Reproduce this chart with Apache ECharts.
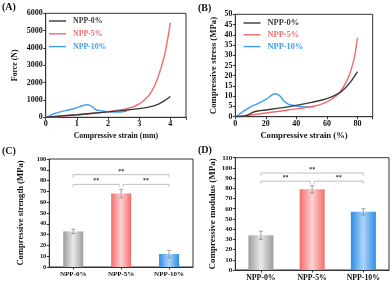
<!DOCTYPE html>
<html><head><meta charset="utf-8">
<script src="https://cdn.jsdelivr.net/npm/echarts@6/dist/echarts.min.js"></script>
<style>html,body{margin:0;padding:0;background:#fff}#c{width:392px;height:282px}</style>
</head><body><div id="c"></div>
<script>
// ---- Data ----
const seriesNames = ['NPP-0%', 'NPP-5%', 'NPP-10%'];
// Panel A: force (N) vs compressive strain (mm)
const forceA0 = [[0,0],[0.5,80],[1,150],[1.5,230],[2,310],[2.5,400],[3,500],[3.3,590],[3.6,750],[3.8,950],[4,1200]];
const forceA5 = [[0,0],[0.5,60],[1,130],[1.5,220],[2,330],[2.5,460],[2.8,600],[3,770],[3.2,1050],[3.4,1500],[3.6,2300],[3.8,3500],[3.9,4400],[4,5450]];
const forceA10 = [[0,0],[0.1,50],[0.2,150],[0.3,230],[0.5,330],[0.8,450],[1.0,560],[1.2,680],[1.3,720],[1.4,700],[1.5,600],[1.6,450],[1.8,360],[2.0,320],[2.2,300],[2.4,310],[2.6,340]];
// Panel B: compressive stress (MPa) vs compressive strain (%)
const stressB0 = [[0,0],[5,0.2],[8,0.8],[10,1.5],[12,2.3],[15,2.8],[20,3.3],[30,4.3],[40,5.5],[50,7],[60,8.8],[68,11.5],[72,14],[76,17.5],[80,22]];
const stressB5 = [[0,0],[10,0.8],[20,1.8],[30,2.8],[40,3.8],[50,5],[55,5.8],[60,7.2],[65,9.5],[68,11.5],[72,16],[75,21],[78,29],[80,38.5]];
const stressB10 = [[0,0],[2,0.8],[5,2.5],[10,4.8],[15,6.5],[20,8.5],[24,10.5],[26,11.2],[28,10.8],[30,9.5],[32,7.5],[35,6],[40,5.3],[45,4.8],[50,4.8],[52,5]];
// Panel C: compressive strength (MPa)
const strengthC = [33, 68, 12];
const strengthErrC = [2, 4, 3.5];
const sigC = [[0, 2, 85.5], [0, 1, 76.5], [1, 2, 76.5]];
// Panel D: compressive modulus (MPa)
const modulusD = [34, 79, 57];
const modulusErrD = [4, 3.5, 3];
const sigD = [[0, 2, 95], [0, 1, 87], [1, 2, 87]];
const sigLabel = '**';

// ---- Styling ----
const FONT = '"Liberation Serif","Times New Roman",serif';
const lineColors = ['#3a3a3a', '#f26b6b', '#3d9ef0'];
const barGrad = [['#9c9c9c', '#e9e9e9'], ['#f46c6c', '#fdd2d2'], ['#2f8ce6', '#acd5fa']];
const axisCol = '#333';

function grad(i) {
  return {type: 'linear', x: 0, y: 0, x2: 1, y2: 0, colorStops: [
    {offset: 0, color: barGrad[i][0]}, {offset: 0.5, color: barGrad[i][1]}, {offset: 1, color: barGrad[i][0]}]};
}
function lbl(fs, extra) {
  return Object.assign({fontFamily: FONT, fontWeight: 'bold', color: '#111', fontSize: fs, margin: 3, formatter: v => String(v)}, extra || {});
}
function nm(fs) { return {fontFamily: FONT, fontWeight: 'bold', color: '#111', fontSize: fs}; }
function valAxis(gi, o) {
  return Object.assign({
    type: 'value', gridIndex: gi, nameLocation: 'middle',
    nameTextStyle: nm(8.5),
    axisLine: {show: true, onZero: false, lineStyle: {color: axisCol, width: 1}},
    axisTick: {show: true, length: 2.5, lineStyle: {color: axisCol}},
    axisLabel: lbl(8),
    splitLine: {show: false}
  }, o);
}
function catAxis(gi, fs) {
  return {type: 'category', gridIndex: gi, data: seriesNames,
    axisLine: {show: true, lineStyle: {color: axisCol, width: 1}},
    axisTick: {show: true, alignWithLabel: true, length: 2.5, lineStyle: {color: axisCol}},
    axisLabel: {fontFamily: FONT, fontWeight: 'bold', color: '#111', fontSize: fs, margin: 4},
    splitLine: {show: false}};
}
function lineSeries(i, gi, data) {
  return {type: 'line', name: seriesNames[i], xAxisIndex: gi, yAxisIndex: gi, data: data,
    smooth: 0.35, symbol: 'none', lineStyle: {color: lineColors[i], width: 1.4},
    itemStyle: {color: lineColors[i]}, z: 5 - i};
}
function errSeries(gi, vals, errs) {
  return {type: 'custom', xAxisIndex: gi, yAxisIndex: gi, silent: true, z: 5,
    data: vals.map((v, i) => [i, v, errs[i]]),
    renderItem: function (params, api) {
      const x = api.value(0), v = api.value(1), e = api.value(2);
      const top = api.coord([x, v + e]), bot = api.coord([x, v - e]);
      const cap = 2;
      const st = {stroke: '#8a8a8a', lineWidth: 0.8};
      return {type: 'group', children: [
        {type: 'line', shape: {x1: top[0], y1: top[1], x2: bot[0], y2: bot[1]}, style: st},
        {type: 'line', shape: {x1: top[0] - cap, y1: top[1], x2: top[0] + cap, y2: top[1]}, style: st},
        {type: 'line', shape: {x1: bot[0] - cap, y1: bot[1], x2: bot[0] + cap, y2: bot[1]}, style: st}
      ]};
    }};
}
function sigSeries(gi, pairs, tickVal, gap) {
  return {type: 'custom', xAxisIndex: gi, yAxisIndex: gi, silent: true, z: 6,
    data: pairs,
    renderItem: function (params, api) {
      const a = api.value(0), b = api.value(1), y = api.value(2);
      const p1 = api.coord([a, y]), p2 = api.coord([b, y]);
      const drop = api.coord([a, y - tickVal])[1] - p1[1];
      const ga = (b - a === 1 && a === 1) ? gap : 0;
      const gb = (b - a === 1 && b === 1) ? gap : 0;
      const x1 = p1[0] + ga, x2 = p2[0] - gb;
      const st = {stroke: '#b0b0b0', lineWidth: 0.8};
      return {type: 'group', children: [
        {type: 'line', shape: {x1: x1, y1: p1[1], x2: x2, y2: p1[1]}, style: st},
        {type: 'line', shape: {x1: x1, y1: p1[1], x2: x1, y2: p1[1] + drop}, style: st},
        {type: 'line', shape: {x1: x2, y1: p1[1], x2: x2, y2: p1[1] + drop}, style: st},
        {type: 'text', x: (x1 + x2) / 2, y: p1[1] - 0.5, style: {text: sigLabel, fill: '#333', font: 'bold 6px ' + FONT, align: 'center', verticalAlign: 'bottom'}}
      ]};
    }};
}
function barSeries(gi, vals, bw) {
  return {type: 'bar', xAxisIndex: gi, yAxisIndex: gi, barWidth: bw,
    data: vals.map((v, i) => ({value: v, itemStyle: {color: grad(i)}})), z: 2};
}
function legendAt(left, top, fs, gap) {
  return {data: seriesNames.map((n, i) => ({name: n, icon: 'rect', textStyle: {color: lineColors[i]}})),
    left: left, top: top, orient: 'vertical',
    itemWidth: 17, itemHeight: 1.4, itemGap: gap, selectedMode: false, padding: 0,
    textStyle: {fontFamily: FONT, fontWeight: 'bold', fontSize: fs, padding: [0, 0, 0, 2]}};
}

const gridBox = {show: true, borderColor: axisCol, borderWidth: 1, backgroundColor: 'transparent', containLabel: false};
const option = {
  animation: false,
  textStyle: {fontFamily: FONT},
  grid: [
    Object.assign({left: 45.7, top: 13.3, width: 140.3, height: 104}, gridBox),
    Object.assign({left: 235.3, top: 14.3, width: 137.4, height: 102.4}, gridBox),
    Object.assign({left: 49.3, top: 159, width: 143.7, height: 108}, gridBox),
    Object.assign({left: 235.3, top: 157.7, width: 153.7, height: 113.3}, gridBox)
  ],
  legend: [
    legendAt(49, 17, 7.8, 4.8),
    legendAt(243.5, 19, 8.4, 3.8)
  ],
  xAxis: [
    valAxis(0, {min: 0, max: 4.5, interval: 1, name: 'Compressive strain (mm)', nameGap: 15,
      nameTextStyle: nm(7.8),
      axisLabel: lbl(8.2, {formatter: v => (v % 1 === 0 ? String(v) : '')})}),
    valAxis(1, {min: 0, max: 90, interval: 20, name: 'Compressive strain (%)', nameGap: 15,
      nameTextStyle: nm(8.6),
      axisLabel: lbl(8, {formatter: v => (v % 20 === 0 ? String(v) : '')})}),
    catAxis(2, 7),
    catAxis(3, 7.8)
  ],
  yAxis: [
    valAxis(0, {min: 0, max: 6000, interval: 1000, name: 'Force (N)', nameGap: 27,
      nameTextStyle: nm(7.8), axisLabel: lbl(8)}),
    valAxis(1, {min: 0, max: 50, interval: 5, name: 'Compressive stress (MPa)', nameGap: 17,
      nameTextStyle: nm(8.8), axisLabel: lbl(7.8)}),
    valAxis(2, {min: 0, max: 100, interval: 10, name: 'Compressive strength (MPa)', nameGap: 24,
      nameTextStyle: nm(8.6), axisLabel: lbl(6.4)}),
    valAxis(3, {min: 0, max: 110, interval: 10, name: 'Compressive modulus (MPa)', nameGap: 18,
      nameTextStyle: nm(9), axisLabel: lbl(7)})
  ],
  graphic: [
    {type: 'text', left: 2, top: 2, style: {text: '(A)', font: 'bold 10px ' + FONT, fill: '#111'}},
    {type: 'text', left: 198, top: 3, style: {text: '(B)', font: 'bold 10px ' + FONT, fill: '#111'}},
    {type: 'text', left: 2, top: 146, style: {text: '(C)', font: 'bold 10px ' + FONT, fill: '#111'}},
    {type: 'text', left: 198, top: 145, style: {text: '(D)', font: 'bold 10px ' + FONT, fill: '#111'}}
  ],
  series: [
    lineSeries(0, 0, forceA0), lineSeries(1, 0, forceA5), lineSeries(2, 0, forceA10),
    lineSeries(0, 1, stressB0), lineSeries(1, 1, stressB5), lineSeries(2, 1, stressB10),
    barSeries(2, strengthC, 20), errSeries(2, strengthC, strengthErrC), sigSeries(2, sigC, 2.5, 2),
    barSeries(3, modulusD, 25), errSeries(3, modulusD, modulusErrD), sigSeries(3, sigD, 2.5, 2)
  ]
};
const chart = echarts.init(document.getElementById('c'), null, {renderer: 'canvas'});
chart.setOption(option);
</script></body></html>
